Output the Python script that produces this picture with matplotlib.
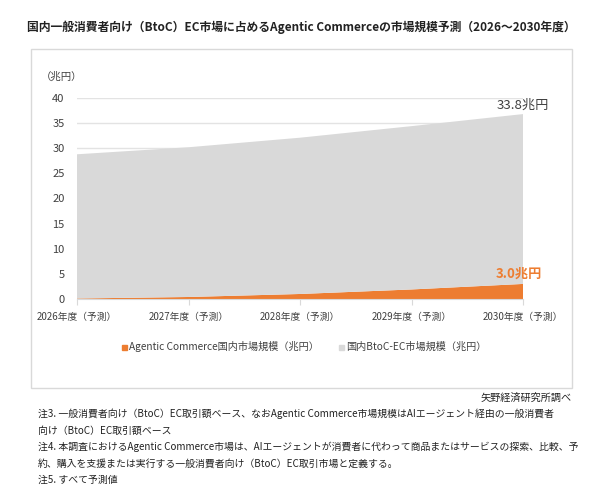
import matplotlib
matplotlib.use("Agg")
import matplotlib.pyplot as plt
from matplotlib.patches import Rectangle

plt.rcParams['font.family'] = ['Noto Sans CJK JP', 'DejaVu Sans']

years = ["2026年度（予測）", "2027年度（予測）", "2028年度（予測）", "2029年度（予測）", "2030年度（予測）"]
agentic = [0.1, 0.4, 1.0, 1.9, 3.0]
btoc = [28.7, 29.8, 31.1, 32.5, 33.8]
yticks = [0, 5, 10, 15, 20, 25, 30, 35, 40]

orange = "#ED7D31"
gray = "#D9D9D9"
txt = "#404040"

fig = plt.figure(figsize=(6.0, 5.04), dpi=100)
fig.patch.set_facecolor("white")

# chart frame
fig.add_artist(Rectangle((31/600, 1-388/504), (572-31)/600, (388-49)/504,
                         transform=fig.transFigure, fill=False, edgecolor="#D9D9D9", lw=1))

fig.text(27/600, 1-27/504, "国内一般消費者向け（BtoC）EC市場に占めるAgentic Commerceの市場規模予測（2026～2030年度）",
         fontsize=8.5, fontweight="bold", color="#222222", va="center", ha="left")

ax = fig.add_axes([77/600, 1-299/504, (523-77)/600, (299-98)/504])
x = list(range(len(years)))
ax.stackplot(x, agentic, btoc, colors=[orange, gray], linewidth=0)
ax.set_xlim(0, len(years)-1)
ax.set_ylim(0, 40)
ax.set_yticks(yticks)
ax.set_yticklabels([str(v) for v in yticks], fontsize=8, color=txt)
ax.set_xticks(x)
ax.set_xticklabels(years, fontsize=7.0, color=txt)
ax.grid(axis="y", color="#E3E3E3", lw=1)
ax.set_axisbelow(True)
for s in ["top", "right", "left"]:
    ax.spines[s].set_visible(False)
ax.spines["bottom"].set_color("#D9D9D9")
ax.tick_params(axis="y", length=0, pad=9)
ax.tick_params(axis="x", length=4, color="#D9D9D9", pad=5)

fig.text(62/600, 1-77/504, "（兆円）", fontsize=7.5, color=txt, ha="center", va="center")

total_last = agentic[-1] + btoc[-1]
ax.annotate(f"{btoc[-1]:.1f}兆円", xy=(x[-1], total_last), xytext=(0, 6), textcoords="offset points",
            ha="center", va="center", fontsize=9.5, color=txt)
ax.annotate(f"{agentic[-1]:.1f}兆円", xy=(x[-1], agentic[-1]), xytext=(-3, 7), textcoords="offset points",
            ha="center", va="center", fontsize=9.5, color=orange, fontweight="bold")

# legend
fig.add_artist(Rectangle((122/600, 1-350/504), 5/600, 5/504, transform=fig.transFigure, color=orange))
fig.text(129/600, 1-347/504, "Agentic Commerce国内市場規模（兆円）", fontsize=7.3, color=txt, va="center")
fig.add_artist(Rectangle((339/600, 1-350/504), 5/600, 5/504, transform=fig.transFigure, color=gray))
fig.text(346/600, 1-347/504, "国内BtoC-EC市場規模（兆円）", fontsize=7.3, color=txt, va="center")

fig.text(572/600, 1-398/504, "矢野経済研究所調べ", fontsize=7.3, color="#222222", ha="right", va="center")
notes = [
    "注3. 一般消費者向け（BtoC）EC取引額ベース、なおAgentic Commerce市場規模はAIエージェント経由の一般消費者",
    "向け（BtoC）EC取引額ベース",
    "注4. 本調査におけるAgentic Commerce市場は、AIエージェントが消費者に代わって商品またはサービスの探索、比較、予",
    "約、購入を支援または実行する一般消費者向け（BtoC）EC取引市場と定義する。",
    "注5. すべて予測値",
]
for i, n in enumerate(notes):
    fig.text(38/600, 1-(414+16.5*i)/504, n, fontsize=7.1, color="#222222", ha="left", va="center")

fig.savefig("out.png", dpi=100)
